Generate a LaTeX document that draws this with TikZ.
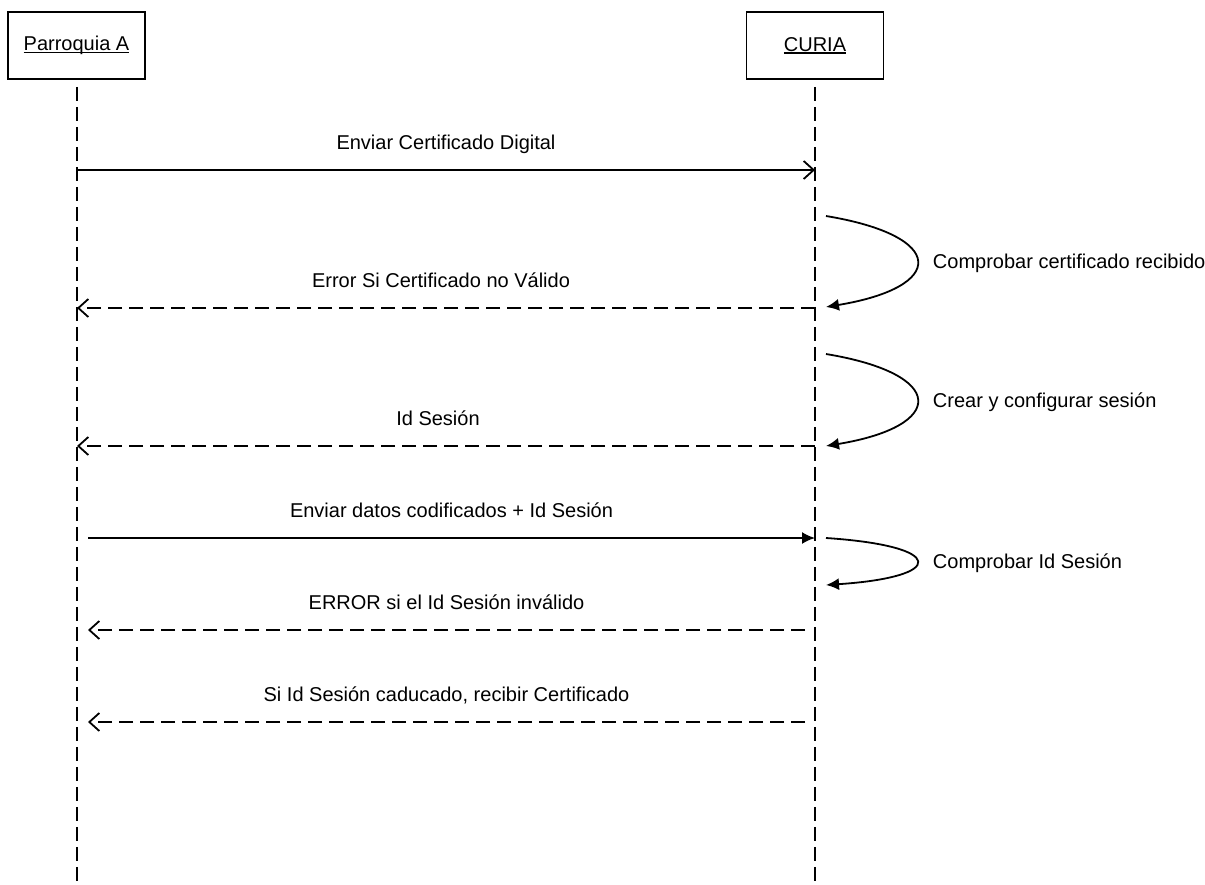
\documentclass[tikz,border=0pt]{standalone}
\usepackage{fontspec}
\setmainfont{Liberation Sans}
\usetikzlibrary{arrows.meta}
\newcommand\subr[1]{\setbox0\hbox{#1}\rlap{\rule[-2.5pt]{\wd0}{1.5pt}}\box0}

\begin{document}
\begin{tikzpicture}[x=1pt, y=-1pt, line width=1.8pt,
	font=\fontsize{20}{24}\selectfont,
	actor/.style={draw, minimum width=137pt, minimum height=67pt, inner sep=0pt},
	lifeline/.style={dash pattern=on 14pt off 6pt},
	msg/.style={-{Straight Barb[length=10pt, width=18pt]}},
	reply/.style={dash pattern=on 14pt off 7pt, -{Straight Barb[length=10pt, width=18pt]}},
	call/.style={-{Latex[length=13pt, width=12pt]}},
	lbl/.style={anchor=base, yshift=21pt},
	selflbl/.style={anchor=base west, xshift=12pt, yshift=-7pt}]
	\useasboundingbox (0,0) rectangle (1205,884);
	% Actores
	\node[actor] (parroquia) at (76.5,45.5) {\subr{Parroquia A}};
	\node[actor] (curia) at (815,45.5) {\subr{CURIA}};
	% Lineas de vida
	\coordinate (pfin) at (77,884);
	\coordinate (cfin) at (815,884);
	\draw[lifeline, shorten <=7pt] (parroquia.south -| pfin) -- (pfin);
	\draw[lifeline, shorten <=7pt] (curia.south) -- (cfin);
	% Certificado
	\coordinate (p1) at (77,170);
	\coordinate (c1) at (815,170);
	\draw[msg] (p1) -- (c1) node[lbl, midway] {Enviar Certificado Digital};
	\coordinate (a1) at (826,216);
	\coordinate (b1) at (826,307);
	\draw[call] (a1) .. controls (947,236) and (947,287) .. (b1) node[selflbl, pos=0.5] {Comprobar certificado recibido};
	\coordinate (c2) at (815,308);
	\coordinate (p2) at (77,308);
	\draw[reply] (c2) -- (p2) node[lbl, midway, xshift=-5pt] {Error Si Certificado no Válido};
	% Sesion
	\coordinate (a2) at (826,354);
	\coordinate (b2) at (826,446);
	\draw[call] (a2) .. controls (947,374) and (947,426) .. (b2) node[selflbl, pos=0.5] {Crear y configurar sesión};
	\coordinate (c3) at (815,446);
	\coordinate (p3) at (77,446);
	\draw[reply] (c3) -- (p3) node[lbl, midway, xshift=-8pt] {Id Sesión};
	% Datos
	\coordinate (p4) at (88,538);
	\coordinate (c4) at (815,538);
	\draw[call] (p4) -- (c4) node[lbl, midway] {Enviar datos codificados + Id Sesión};
	\coordinate (a3) at (826,538);
	\coordinate (b3) at (826,585);
	\draw[call] (a3) .. controls (947,546) and (947,577) .. (b3) node[selflbl, pos=0.5] {Comprobar Id Sesión};
	\coordinate (c5) at (805,630);
	\coordinate (p5) at (88,630);
	\draw[reply] (c5) -- (p5) node[lbl, midway] {ERROR si el Id Sesión inválido};
	\coordinate (c6) at (805,722);
	\coordinate (p6) at (88,722);
	\draw[reply] (c6) -- (p6) node[lbl, midway] {Si Id Sesión caducado, recibir Certificado};
\end{tikzpicture}
\end{document}
